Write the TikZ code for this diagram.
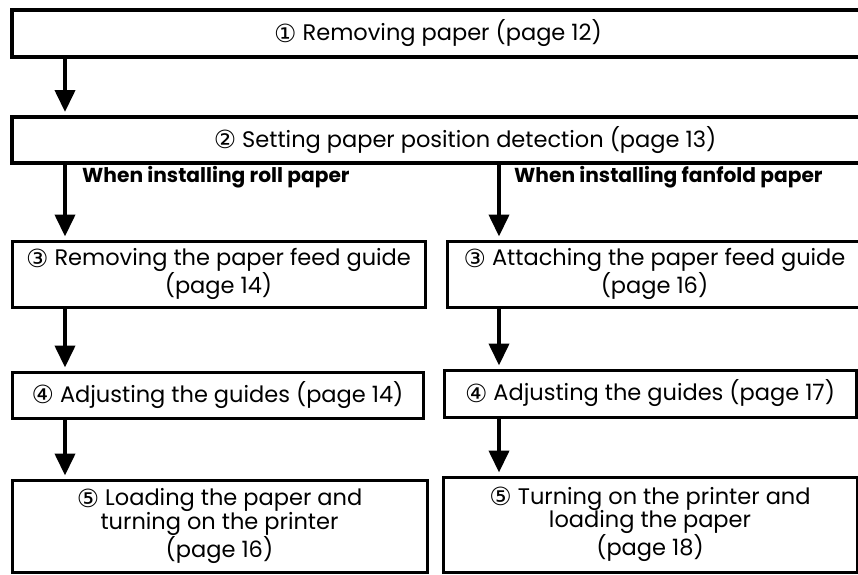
\documentclass[tikz,border=0pt]{standalone}
\usepackage{fontspec}
\setmainfont{Poppins}
\newfontfamily\circfont{DejaVu Sans}
\usetikzlibrary{arrows.meta, positioning}
\tikzset{
  align=center,
  stepbox/.style={draw, rectangle, line width=3pt, inner sep=0pt, font=\fontsize{22.5}{23.5}\selectfont},
  widebox/.style={stepbox, line width=4pt},
  flow/.style={-{Triangle[width=20pt,length=22pt]}, line width=4pt, shorten >=3pt},
  branch/.style={anchor=west, inner sep=0pt, font=\bfseries\fontsize{20.2}{23.5}\selectfont}
}
\newcommand{\stepno}[1]{\smash{\raisebox{-1.5pt}{\fontsize{25}{25}\circfont #1}}}

\begin{document}
\begin{tikzpicture}[x=1pt, y=-1pt]
  \path[use as bounding box, clip] (0,0) rectangle (858,574);
  \coordinate (laneL) at (65,0);
  \coordinate (laneR) at (499,0);

  % common steps
  \node[widebox, minimum width=852pt, minimum height=47pt] (remove) at (438,33.5) {\stepno{①} Removing paper (page 12)};
  \node[widebox, minimum width=906pt, minimum height=46pt] (detect) at (465,140) {\stepno{②} Setting paper position detection (page 13)};

  \node[branch] (rolllbl) at (82,177) {When installing roll paper};
  \node[branch] (fanlbl) at (514,177) {When installing fanfold paper};

  % roll paper
  \node[stepbox, minimum width=413pt, minimum height=66pt] (guideoff) at (218.5,274) {\stepno{③} Removing the paper feed guide\\(page 14)};
  \node[stepbox, minimum width=411pt, minimum height=46pt] (adjroll) at (217.5,395) {\stepno{④} Adjusting the guides (page 14)};
  \node[stepbox, minimum width=415pt, minimum height=92pt] (loadroll) at (219.5,526) {\stepno{⑤} Loading the paper and\\turning on the printer\\(page 16)};

  % fanfold paper
  \node[stepbox, minimum width=415pt, minimum height=66pt] (guideon) at (654.5,274) {\stepno{③} Attaching the paper feed guide\\(page 16)};
  \node[stepbox, minimum width=412pt, minimum height=47pt] (adjfan) at (650,393.5) {\stepno{④} Adjusting the guides (page 17)};
  \node[stepbox, minimum width=414pt, minimum height=95pt] (loadfan) at (650,524.5) {\stepno{⑤} Turning on the printer and\\loading the paper\\(page 18)};

  \draw[flow] (remove.south -| laneL) -- (detect.north -| laneL);
  \draw[flow] (detect.south -| laneL) -- (guideoff.north -| laneL);
  \draw[flow] (guideoff.south -| laneL) -- (adjroll.north -| laneL);
  \draw[flow] (adjroll.south -| laneL) -- (loadroll.north -| laneL);
  \draw[flow] (detect.south -| laneR) -- (guideon.north -| laneR);
  \draw[flow] (guideon.south -| laneR) -- (adjfan.north -| laneR);
  \draw[flow] (adjfan.south -| laneR) -- (loadfan.north -| laneR);
\end{tikzpicture}
\end{document}
